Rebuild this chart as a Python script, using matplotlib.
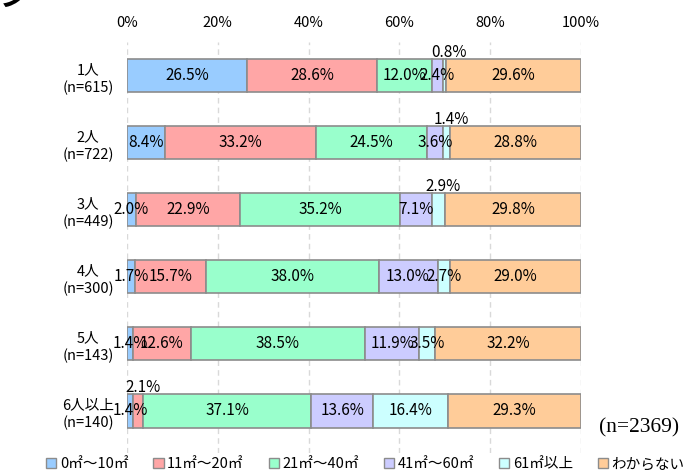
import numpy as np
import matplotlib.pyplot as plt
from matplotlib.patches import Patch

plt.rcParams['font.family'] = ['Noto Sans CJK JP', 'DejaVu Sans']

# data
groups = ['1人\n(n=615)', '2人\n(n=722)', '3人\n(n=449)',
          '4人\n(n=300)', '5人\n(n=143)', '6人以上\n(n=140)']
series = ['0㎡～10㎡', '11㎡～20㎡', '21㎡～40㎡', '41㎡～60㎡', '61㎡以上', 'わからない']
values = np.array([
    [26.5, 28.6, 12.0, 2.4, 0.8, 29.6],
    [8.4, 33.2, 24.5, 3.6, 1.4, 28.8],
    [2.0, 22.9, 35.2, 7.1, 2.9, 29.8],
    [1.7, 15.7, 38.0, 13.0, 2.7, 29.0],
    [1.4, 12.6, 38.5, 11.9, 3.5, 32.2],
    [1.4, 2.1, 37.1, 13.6, 16.4, 29.3],
])
# labels drawn above the bar instead of inside (row, series)
above = [(0, 4), (1, 4), (2, 4), (5, 1)]
colors = ['#99CCFF', '#FFA6A6', '#99FFCC', '#CCCCFF', '#CCFFFF', '#FFCC99']

fig = plt.figure(figsize=(6.96, 4.73), dpi=100)
ax = fig.add_axes([0.1825, 0.0423, 0.6523, 0.8689])

y = np.arange(len(groups))
left = np.zeros(len(groups))
for j in range(len(series)):
    ax.barh(y, values[:, j], left=left, height=0.5, color=colors[j],
            edgecolor='#8C8C8C', linewidth=1.2, zorder=2)
    for i in range(len(groups)):
        xc = left[i] + values[i, j] / 2
        txt = f'{values[i, j]:.1f}%'
        if (i, j) in above:
            ax.text(xc + 1, y[i] - 0.35, txt, ha='center', va='center',
                    fontsize=11, zorder=3)
        else:
            ax.text(xc, y[i], txt, ha='center', va='center',
                    fontsize=11, zorder=3)
    left += values[:, j]

ax.set_xlim(0, 100)
ax.set_ylim(5.63, -0.5)
ax.set_xticks(np.arange(0, 101, 20))
ax.set_xticklabels([f'{v}%' for v in range(0, 101, 20)], fontsize=10.5)
ax.xaxis.tick_top()
ax.tick_params(axis='x', length=0, pad=9)
ax.set_yticks(y)
ax.set_yticklabels(groups, fontsize=10.5, ha='center', linespacing=1.3)
ax.tick_params(axis='y', length=0, pad=28)
for s in ax.spines.values():
    s.set_visible(False)
ax.xaxis.grid(True, color='#D9D9D9', linestyle=(0, (4, 3)), linewidth=1, zorder=0)
ax.set_axisbelow(True)

ax.text(1.04, 0.06, '(n=2369)', transform=ax.transAxes, fontsize=15.5,
        family='Liberation Serif', ha='left', va='center')

# cut-off title fragment in the corner
fig.text(0.0, 1.005, 'ン', fontsize=20, fontweight='bold', ha='left', va='center')

handles = [Patch(facecolor=c, edgecolor='#8C8C8C', linewidth=1) for c in colors]
fig.legend(handles, series, loc='center', bbox_to_anchor=(0.525, 0.018), ncol=6,
           frameon=False, fontsize=10.5, handlelength=0.7, handleheight=0.7,
           handletextpad=0.25, columnspacing=1.7)

fig.savefig('out.png', dpi=100)
